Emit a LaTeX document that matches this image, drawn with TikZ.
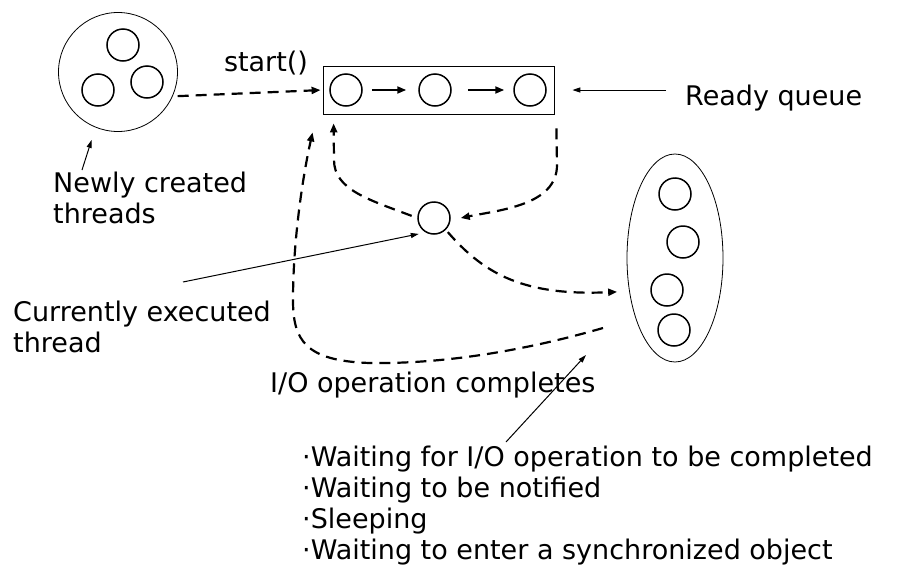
\documentclass[tikz,border=0pt]{standalone}
\usepackage{fontspec}
\setmainfont{DejaVu Sans}
\usetikzlibrary{arrows.meta,shapes.geometric}
\begin{document}
\begin{tikzpicture}[x=1pt,y=-1pt]
\tikzset{
  thr/.style={circle, draw, line width=1.5pt, minimum size=32pt, inner sep=0pt},
  grp/.style={draw, line width=0.8pt, inner sep=0pt},
  dasharr/.style={line width=2.2pt, dash pattern=on 11pt off 7pt, -{Triangle[length=9pt,width=7pt]}},
  solidarr/.style={line width=2pt, -{Triangle[length=9pt,width=7pt]}},
  thinarr/.style={line width=1pt, -{Triangle[length=8pt,width=5pt]}},
  lbl/.style={inner sep=0pt, align=left, font=\fontsize{27pt}{31pt}\selectfont}
}
\useasboundingbox (0,0) rectangle (903,568);

% pool of newly created threads
\node[grp, circle, minimum size=119pt] (newpool) at (118,72) {};
\node[thr] (n1) at (123,45) {};
\node[thr] (n2) at (98,90) {};
\node[thr] (n3) at (147,82) {};

% ready queue
\node[grp, rectangle, minimum width=231pt, minimum height=48pt] (rq) at (438.5,90) {};
\node[thr] (q1) at (346,90) {};
\node[thr] (q2) at (435,90) {};
\node[thr] (q3) at (530,90) {};
\draw[solidarr, shorten <=9pt, shorten >=12pt] (q1) -- (q2);
\draw[solidarr, shorten <=16pt, shorten >=9pt] (q2) -- (q3);

\node[lbl, anchor=base west] (rqtext) at (685,105) {Ready queue};
\draw[thinarr, shorten <=19pt, shorten >=18pt] (rqtext.west |- rq.east) -- (rq.east);

\node[lbl, anchor=base] (startlbl) at (266,71) {start()};
\draw[dasharr, shorten <=5pt, shorten >=2pt] (newpool.-24) -- (rq.west);

% running thread
\node[thr] (cur) at (434,218) {};

% waiting threads
\node[grp, ellipse, minimum width=96pt, minimum height=208pt] (wait) at (675,258) {};
\node[thr] (w1) at (675,194) {};
\node[thr] (w2) at (683,242) {};
\node[thr] (w3) at (667,290) {};
\node[thr] (w4) at (674,330) {};

% scheduling transitions
\draw[dasharr, shorten <=6pt] (cur.west) .. controls (370,200) and (334,190) .. (334,160)
  -- ([xshift=11pt, yshift=-9pt]rq.south west);
\draw[dasharr] ([xshift=2pt, yshift=-14pt]rq.south east) -- (557,165)
  .. controls (557,205) and (500,210) .. ([xshift=10pt]cur.east);
\draw[dasharr, shorten <=3pt, shorten >=12pt] (cur.-45) .. controls (485,275) and (525,296) .. (wait.216);

\coordinate (iodone) at (603,328);
\draw[dasharr] (iodone) .. controls (520,352) and (440,364) .. (370,363)
  .. controls (305,361) and (293,340) .. (293,300)
  .. controls (293,240) and (303,175) .. ([xshift=-10pt, yshift=-18pt]rq.south west);

% labels (base anchor sits on the last line)
\node[lbl, anchor=base west] (newlbl) at (53,223) {Newly created\\threads};
\coordinate (newtail) at (82,170);
\draw[thinarr, shorten >=13pt] (newtail) -- (newpool.248);

\node[lbl, anchor=base west] (curlbl) at (13,352) {Currently executed\\thread};
\coordinate (curtail) at (183,282);
\draw[thinarr, shorten >=7pt] (curtail) -- (cur.240);

\node[lbl, anchor=base west] (iolbl) at (270,392) {I/O operation completes};
\coordinate (iotail) at (506,442);
\coordinate (iotip) at (586,355);
\draw[thinarr] (iotail) -- (iotip);

\node[lbl, anchor=base west] (waitlbl) at (302,559)
  {·Waiting for I/O operation to be completed\\·Waiting to be notified\\·Sleeping\\·Waiting to enter a synchronized object};
\end{tikzpicture}
\end{document}
